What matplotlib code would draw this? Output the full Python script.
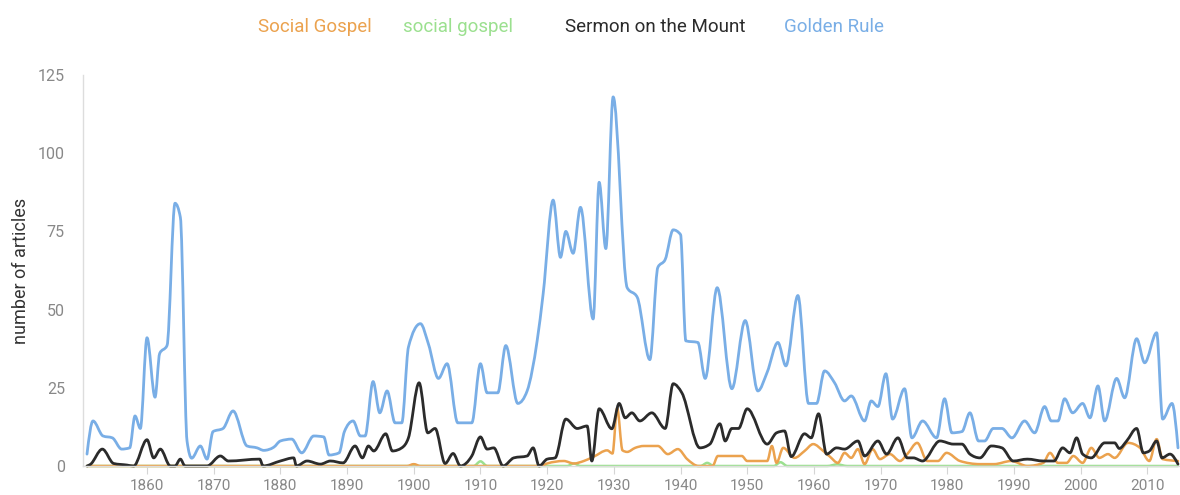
import numpy as np
import matplotlib.pyplot as plt
from matplotlib.path import Path
from matplotlib.patches import PathPatch

plt.rcParams['font.family'] = ['Roboto', 'DejaVu Sans']

# Golden Rule (blue)
gr_years = [1851.0, 1851.9, 1853.4, 1854.8, 1856.2, 1857.4, 1858.2, 1859.0, 1860.0, 1861.2,
            1861.9, 1863.0, 1864.2, 1865.0, 1866.0, 1866.7, 1868.0, 1869.0, 1869.9, 1871.4,
            1872.9, 1875.0, 1876.5, 1877.5, 1879.0, 1880.0, 1881.7, 1883.2, 1885.0, 1886.5,
            1887.3, 1888.8, 1889.6, 1890.9, 1892.0, 1892.7, 1893.9, 1894.9, 1896.0, 1897.2,
            1898.2, 1899.2, 1901.0, 1902.2, 1903.7, 1905.0, 1906.6, 1908.7, 1910.0, 1911.0,
            1912.6, 1913.8, 1915.6, 1917.0, 1918.5, 1919.4, 1920.9, 1922.0, 1922.8, 1923.9,
            1925.0, 1926.9, 1927.8, 1928.8, 1929.9, 1932.0, 1933.5, 1935.4, 1936.6, 1937.7,
            1938.9, 1940.0, 1940.8, 1942.6, 1943.7, 1945.5, 1947.7, 1949.7, 1951.6, 1953.0,
            1954.6, 1955.8, 1957.6, 1959.2, 1960.4, 1961.6, 1963.1, 1964.6, 1965.6, 1967.6,
            1968.6, 1969.6, 1970.8, 1971.8, 1973.6, 1974.7, 1976.3, 1978.4, 1979.6, 1980.7,
            1982.2, 1983.4, 1984.7, 1985.6, 1986.9, 1988.2, 1989.7, 1991.6, 1993.1, 1994.6,
            1995.6, 1996.6, 1997.6, 1998.8, 2000.3, 2001.4, 2002.6, 2003.6, 2005.4, 2006.6,
            2008.4, 2009.6, 2011.4, 2012.3, 2013.7, 2014.6]
gr_vals = [3.8, 14.4, 9.6, 9.0, 5.4, 5.8, 16, 12, 41, 22,
           36, 38.5, 84, 79.5, 8, 2.5, 6.4, 2.2, 11, 12,
           17.6, 6.4, 5.8, 5.0, 6, 8, 8.6, 4.2, 9.6, 9.3,
           3.5, 4.2, 11, 14.4, 9.6, 9.6, 27, 17, 24, 13.8,
           13.8, 38, 45.5, 39, 28, 32.7, 13.8, 13.8, 32.7, 23.4,
           23.4, 38.5, 20, 24, 40, 55, 85, 66.7, 75, 68,
           82.7, 47, 90.7, 69.5, 118, 57, 54, 34, 63.5, 66,
           75.5, 74, 40, 39.5, 28, 57, 24.7, 46.5, 24, 30,
           39.5, 32, 54.5, 20, 20, 30.4, 26.6, 20.8, 22.4, 14.4,
           20.8, 19, 29.5, 15, 24.7, 9, 14.4, 9, 21.5, 10.6,
           11, 17, 8, 8, 12, 12, 9, 14.4, 10.6, 19,
           14.4, 14.4, 21.5, 17, 20, 15.4, 25.6, 14.4, 28, 21.8,
           40.7, 33, 42.6, 15, 20, 5.8]

# Sermon on the Mount (black)
sm_years = [1851.0, 1851.5, 1853.3, 1855.0, 1857.0, 1858.0, 1860.0, 1861.0, 1862.0, 1863.5,
            1864.2, 1865.0, 1865.7, 1869.0, 1871.0, 1872.2, 1876.9, 1877.4, 1880.0, 1882.0,
            1882.4, 1884.0, 1886.0, 1887.5, 1889.4, 1891.2, 1892.3, 1893.2, 1894.0, 1895.8,
            1896.8, 1898.2, 1899.2, 1900.8, 1902.1, 1903.2, 1904.7, 1905.9, 1907.0, 1908.7,
            1910.0, 1911.0, 1912.0, 1913.4, 1915.0, 1917.0, 1917.9, 1918.8, 1920.0, 1921.2,
            1922.8, 1924.5, 1926.0, 1926.7, 1927.8, 1929.7, 1930.8, 1931.7, 1932.7, 1933.9,
            1935.7, 1937.7, 1938.9, 1940.2, 1942.9, 1944.4, 1945.9, 1946.7, 1947.7, 1948.7,
            1950.0, 1953.0, 1954.4, 1955.6, 1956.6, 1958.6, 1959.6, 1960.7, 1961.9, 1963.4,
            1964.6, 1966.6, 1967.6, 1969.6, 1970.9, 1972.6, 1974.0, 1974.9, 1976.3, 1978.9,
            1980.9, 1982.2, 1983.4, 1984.9, 1986.6, 1988.2, 1989.9, 1992.0, 1994.4, 1996.0,
            1997.3, 1998.4, 1999.4, 2000.3, 2001.6, 2003.6, 2005.1, 2005.8, 2006.9, 2008.4,
            2009.4, 2010.3, 2011.4, 2012.2, 2013.4, 2014.6]
sm_vals = [0, 0.5, 5.4, 0.8, 0.3, 0, 8.4, 2.6, 5.4, 0,
           0, 2.2, 0, 0, 3.2, 1.6, 2.2, 0, 1.6, 2.6,
           0, 1.6, 0.6, 1.6, 1, 6.4, 2.6, 6.4, 4.8, 10.3,
           4.8, 5.8, 9, 26.6, 10.6, 12, 0.8, 4.0, 0, 3.2,
           9.3, 5.4, 5.8, 0, 2.6, 3.2, 5.8, 0, 2.2, 2.6,
           15, 12, 12.8, 1.6, 18.3, 11.9, 20, 15.4, 17, 14.4,
           17, 12, 26.3, 23.4, 5.8, 7, 13.5, 8, 12, 12,
           18.3, 7, 10.6, 11.2, 3, 10.3, 9, 16.7, 3.8, 5.8,
           5.4, 8, 3.2, 8, 3.8, 9, 2.6, 2.6, 1.6, 8,
           7, 7, 3.8, 2.6, 6.4, 5.8, 1.6, 2.2, 1.6, 1.6,
           5.8, 4.2, 9, 3.8, 2.6, 7.4, 7.4, 5.6, 8, 12,
           4.2, 4.8, 8, 2.6, 3.8, 0.6]

# Social Gospel (orange)
sg_years = [1851, 1899, 1900, 1901, 1919, 1920, 1922.5, 1924, 1925.5, 1927,
            1929, 1929.8, 1930.5, 1931.3, 1932, 1933.2, 1934.5, 1936.6, 1938.1, 1939.6,
            1941, 1942.7, 1944.8, 1945.6, 1949.2, 1950, 1953, 1953.7, 1954.4, 1955.4,
            1957.1, 1958.6, 1959.9, 1961.4, 1962.4, 1963.6, 1964.6, 1965.6, 1966.6, 1967.6,
            1968.8, 1969.9, 1971.4, 1972.9, 1974, 1975.5, 1977, 1978.6, 1979.9, 1981.9,
            1984.9, 1987, 1989.6, 1992, 1994.4, 1995.4, 1996.6, 1997.9, 1998.9, 2000.3,
            2001.6, 2002.8, 2004.1, 2005.1, 2007.1, 2008.9, 2010.3, 2011.4, 2012.3, 2014.6]
sg_vals = [0, 0, 0.6, 0, 0, 0.8, 1.6, 0.8, 1.6, 3,
           5, 4, 18.5, 5, 4.5, 5.8, 6.4, 6.4, 3.8, 5.4,
           2.2, 0, 0, 3.2, 3.2, 1.6, 1.6, 6.4, 1, 5.8,
           2.6, 4.8, 7, 4.8, 3, 1, 4.2, 2.6, 5.4, 0.6,
           5.4, 2.2, 3.8, 1.6, 3.8, 7.4, 1.6, 1.6, 4.2, 1.6,
           0.6, 0.6, 1.6, 0, 1, 4.2, 1, 1, 3.2, 1,
           5.8, 2.6, 3.8, 2.6, 7.4, 5.8, 1.6, 8.6, 2.2, 1.6]

# social gospel (green)
sgl_years = [1851, 1909, 1910, 1911, 1923, 1924, 1925, 1943, 1944, 1945,
             1954, 1955, 1956, 1962, 1963.5, 1965, 2014.6]
sgl_vals = [0, 0, 1.5, 0, 0, 0.8, 0, 0, 1, 0,
            0, 1.2, 0, 0, 0.5, 0, 0]

labels = ['Social Gospel', 'social gospel', 'Sermon on the Mount', 'Golden Rule']
colors = ['#eba24e', '#9be08f', '#2b2b2b', '#79aee6']


def smooth_line(ax, x, y, **kw):
    # monotone cubic curve through the points (like d3 curveMonotoneX)
    x = np.asarray(x, float)
    y = np.asarray(y, float)
    h = np.diff(x)
    s = np.diff(y) / h
    n = len(x)
    t = np.zeros(n)
    for i in range(1, n - 1):
        if s[i - 1] * s[i] > 0:
            p = (s[i - 1] * h[i] + s[i] * h[i - 1]) / (h[i - 1] + h[i])
            t[i] = np.sign(s[i - 1]) * min(abs(s[i - 1]), abs(s[i]), 0.5 * abs(p)) * 2
    t[0] = (3 * s[0] - t[1]) / 2
    t[-1] = (3 * s[-1] - t[-2]) / 2
    verts = [(x[0], y[0])]
    codes = [Path.MOVETO]
    for i in range(n - 1):
        dx = h[i] / 3
        verts += [(x[i] + dx, y[i] + dx * t[i]),
                  (x[i + 1] - dx, y[i + 1] - dx * t[i + 1]),
                  (x[i + 1], y[i + 1])]
        codes += [Path.CURVE4] * 3
    patch = PathPatch(Path(verts, codes), fill=False, capstyle='round',
                      joinstyle='round', clip_on=False, **kw)
    ax.add_patch(patch)


fig = plt.figure(figsize=(11.8, 4.95), dpi=100)
ax = fig.add_axes([83 / 1180, 29 / 495, 1 - 83 / 1180, 391 / 495])

smooth_line(ax, sgl_years, sgl_vals, edgecolor=colors[1], lw=1.8)
smooth_line(ax, sg_years, sg_vals, edgecolor=colors[0], lw=1.8)
smooth_line(ax, sm_years, sm_vals, edgecolor=colors[2], lw=2.0)
smooth_line(ax, gr_years, gr_vals, edgecolor=colors[3], lw=2.0)

ax.set_xlim(1850.4, 2014.9)
ax.set_ylim(0, 125)
ax.set_yticks([0, 25, 50, 75, 100, 125])
ax.set_xticks(range(1860, 2011, 10))

for s in ['top', 'right']:
    ax.spines[s].set_visible(False)
for s in ['left', 'bottom']:
    ax.spines[s].set_color('#dddddd')
    ax.spines[s].set_linewidth(1.0)

ax.tick_params(axis='y', length=0, pad=13, labelsize=11.5, labelcolor='#888888')
ax.tick_params(axis='x', length=6, width=0.8, color='#d5d5d5', pad=3,
               labelsize=11, labelcolor='#888888')
ax.set_ylabel('number of articles', fontsize=13, color='#333333')
ax.yaxis.set_label_coords(-53 / 1097, 0.5)

centers = [315, 458, 655, 834]
for lab, col, cx in zip(labels, colors, centers):
    fig.text(cx / 1180, 1 - 27 / 495, lab, color=col, fontsize=13.5,
             ha='center', va='center')

fig.savefig('out.png', dpi=100)
